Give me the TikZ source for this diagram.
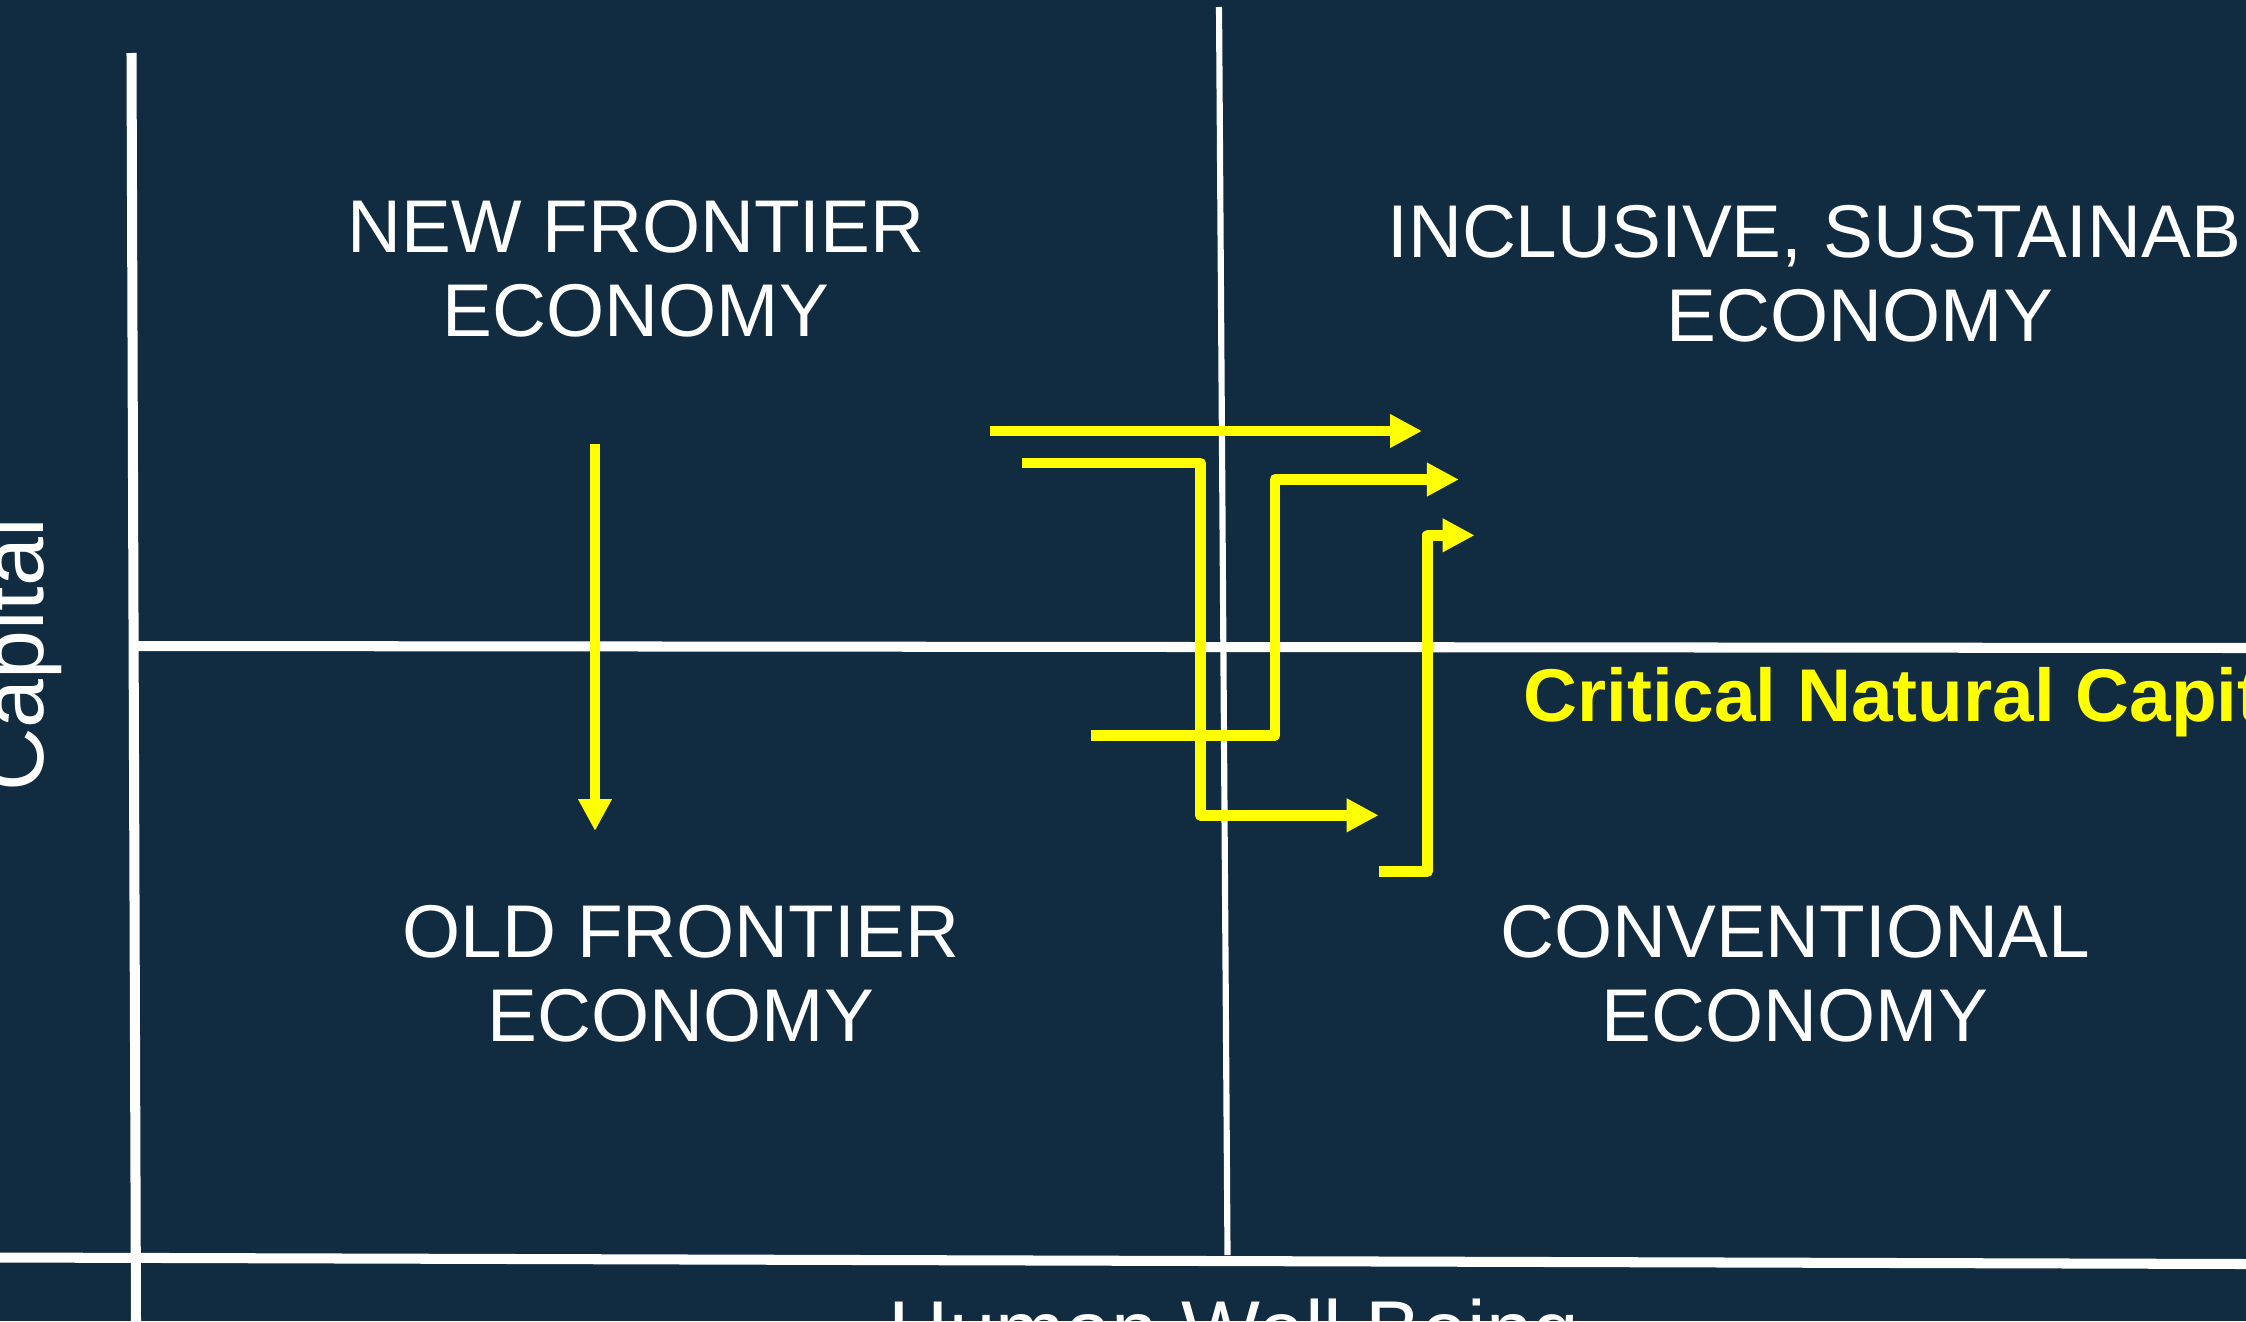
\documentclass[tikz,border=0pt]{standalone}
\usepackage{fontspec}
\setmainfont{Liberation Sans}
\usetikzlibrary{arrows.meta}
\definecolor{bgnavy}{RGB}{17,43,64}
\definecolor{ylw}{RGB}{255,255,0}
\begin{document}
\begin{tikzpicture}[x=0.01cm,y=-0.01cm,
  axisline/.style={draw=white,line width=2.85pt},
  midline/.style={draw=white,line width=1.75pt},
  quad/.style={text=white,align=center,inner sep=0pt,anchor=base,
    font=\fontsize{21.25pt}{23.76pt}\selectfont},
  flow/.style={draw=ylw,line width=3.1pt,line join=round,
    -{Triangle[length=9.1pt,width=9pt]}},
  axislabel/.style={text=white,inner sep=0pt,anchor=base}]
\useasboundingbox (0,0) rectangle (2246,1321);
\clip (0,0) rectangle (2246,1321);
\fill[bgnavy] (0,0) rectangle (2246,1321);

% axes and dividers
\coordinate (ytop) at (131.5,53);
\coordinate (ybot) at (136,1321);
\coordinate (hl) at (134,646);
\coordinate (hr) at (2246,648);
\coordinate (bl) at (0,1257.5);
\coordinate (br) at (2246,1264);
\coordinate (vt) at (1219,7);
\coordinate (vb) at (1227.5,1255);
\draw[axisline] (ytop) -- (ybot);
\draw[axisline] (hl) -- (hr);
\draw[axisline] (bl) -- (br);
\draw[midline] (vt) -- (vb);

% quadrant labels (anchor = baseline of the last line)
\node[quad] (nfe) at (636,336) {NEW FRONTIER\\ECONOMY};
\node[quad] (ise) at (1860,341) {INCLUSIVE, SUSTAINABLE\\ECONOMY};
\node[quad] (ofe) at (681,1041) {OLD FRONTIER\\ECONOMY};
\node[quad] (cve) at (1795,1041) {CONVENTIONAL\\ECONOMY};

% threshold label
\node[text=ylw,inner sep=0pt,anchor=base west,
  font=\fontsize{21.25pt}{23.76pt}\selectfont\bfseries] (cnc) at (1522.7,721)
  {Critical Natural Capital};

% axis labels
\node[axislabel,rotate=90,font=\fontsize{25pt}{30pt}\selectfont] (ylab) at (43,655) {Capital};
\node[axislabel,font=\fontsize{23.76pt}{28pt}\selectfont] (xlab) at (1234,1359) {Human Well Being};

% yellow flows
\coordinate (e0) at (595,444);
\coordinate (e1) at (595,831);
\draw[flow] (e0) -- (e1);

\coordinate (a0) at (990,431);
\coordinate (a1) at (1422,431);
\draw[flow] (a0) -- (a1);

\coordinate (b0) at (1022,463);
\coordinate (b1) at (1378.6,815.3);
\draw[flow] (b0) -- (1200.4,463) -- (1200.4,815.3) -- (b1);

\coordinate (c0) at (1091.4,735.3);
\coordinate (c1) at (1458.9,479.5);
\draw[flow] (c0) -- (1275,735.3) -- (1275,479.5) -- (c1);

\coordinate (d0) at (1379,871.3);
\coordinate (d1) at (1474.6,535.3);
\draw[flow] (d0) -- (1427.5,871.3) -- (1427.5,535.3) -- (d1);
\end{tikzpicture}
\end{document}
